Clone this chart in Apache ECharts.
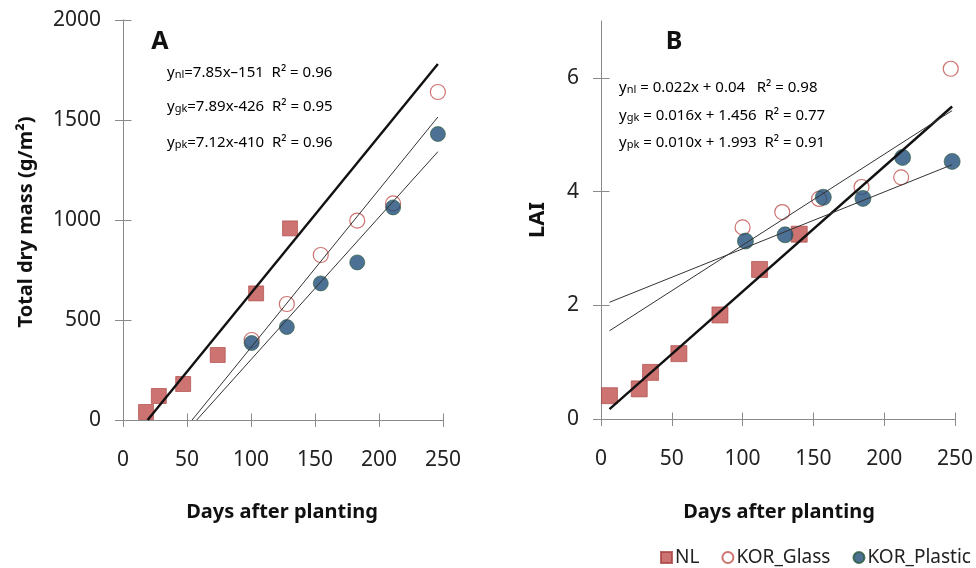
<!DOCTYPE html>
<html>
<head>
<meta charset="utf-8">
<title>Dry mass and LAI</title>
<script src="https://cdn.jsdelivr.net/npm/echarts@6/dist/echarts.min.js"></script>
<style>
  html, body { margin: 0; padding: 0; background: #fff; }
  #chart { width: 976px; height: 568px; }
</style>
</head>
<body>
<div id="chart"></div>
<script>
// Panel A: total dry mass (g/m2) against days after planting
const daysA_NL = [18, 28, 47, 74, 104, 130.5];
const massA_NL = [40, 120, 180, 325, 633, 958];
const daysA_KOR = [100.5, 128, 154.5, 183, 211, 246];
const massA_Glass = [400, 580, 825, 997, 1083, 1640];
const massA_Plastic = [385, 465, 683, 788, 1063, 1430];

// Panel B: leaf area index against days after planting
const daysB_NL = [6, 27, 35, 55, 84, 112, 140];
const laiB_NL = [0.41, 0.53, 0.82, 1.15, 1.83, 2.63, 3.25];
const daysB_Glass = [100, 128, 154, 184, 212, 247];
const laiB_Glass = [3.37, 3.64, 3.87, 4.08, 4.25, 6.16];
const daysB_Plastic = [102, 130, 157, 185, 213, 248];
const laiB_Plastic = [3.13, 3.24, 3.90, 3.88, 4.60, 4.53];

// Linear regressions (order: NL, KOR_Glass, KOR_Plastic)
const slopesA = [7.85, 7.89, 7.12];
const interceptsA = [-151, -426, -410];
const slopesB = [0.022, 0.016, 0.010];
const interceptsB = [0.04, 1.456, 1.993];

const eqTextA = [
  ['nl', '=7.85x\u2013151  R\u00b2 = 0.96'],
  ['gk', '=7.89x-426  R\u00b2 = 0.95'],
  ['pk', '=7.12x-410  R\u00b2 = 0.96']
];
const eqTextB = [
  ['nl', ' = 0.022x + 0.04   R\u00b2 = 0.98'],
  ['gk', ' = 0.016x + 1.456  R\u00b2 = 0.77'],
  ['pk', ' = 0.010x + 1.993  R\u00b2 = 0.91']
];

// Tick values
const ticksX = [0, 50, 100, 150, 200, 250];
const ticksA_y = [0, 500, 1000, 1500, 2000];
const ticksB_y = [0, 2, 4, 6];

const FONT = 'Noto Sans';
const RED = '#C0504D';
const BLUE = '#1F4E79';

function zip(xs, ys) { return xs.map((x, i) => [x, ys[i]]); }

// Regression line over the pooled x range, kept at y >= 0
function fitLine(m, b, xmin, xmax) {
  let x0 = xmin;
  if (m * x0 + b < 0) x0 = -b / m;
  return [[x0, m * x0 + b], [xmax, m * xmax + b]];
}

const allA = daysA_NL.concat(daysA_KOR);
const allB = daysB_NL.concat(daysB_Glass, daysB_Plastic);
const minA = Math.min(...allA), maxA = Math.max(...allA);
const minB = Math.min(...allB), maxB = Math.max(...allB);

const GRID_A = { left: 123, top: 20, width: 320, height: 400 };
const GRID_B = { left: 601, top: 21, width: 355, height: 398 };

const AXIS_GREY = '#8a8a8a';
const axisLineStyle = { color: AXIS_GREY, width: 1 };
const labelStyle = {
  fontFamily: FONT, fontSize: 21, color: '#222',
  formatter: (v) => String(v)
};
const TICK_X = 7, TICK_Y = 8;

function mainX(grid) {
  return {
    type: 'value', gridIndex: grid, min: 0, max: 250, interval: 50, position: 'bottom',
    splitLine: { show: false },
    axisLine: { show: true, onZero: false, lineStyle: axisLineStyle },
    axisTick: { show: true, length: TICK_X, lineStyle: axisLineStyle, customValues: ticksX },
    axisLabel: Object.assign({ margin: 30, customValues: ticksX }, labelStyle)
  };
}
function mainY(grid, max, interval, ticks) {
  return {
    type: 'value', gridIndex: grid, min: 0, max, interval, position: 'left',
    splitLine: { show: false },
    axisLine: { show: true, onZero: false, lineStyle: axisLineStyle },
    axisTick: { show: true, length: TICK_Y, lineStyle: axisLineStyle, customValues: ticks },
    axisLabel: Object.assign({ margin: 22, customValues: ticks }, labelStyle)
  };
}

const option = {
  animation: false,
  backgroundColor: '#fff',
  grid: [GRID_A, GRID_B],
  xAxis: [mainX(0), mainX(1)],
  yAxis: [mainY(0, 2000, 500, ticksA_y), mainY(1, 7, 2, ticksB_y)],
  legend: {
    left: 655, top: 543,
    itemWidth: 11, itemHeight: 11, itemGap: 22,
    textStyle: { fontFamily: FONT, fontSize: 19, color: '#222', padding: [0, 0, 0, -2] },
    data: [
      { name: 'NL', icon: 'rect' },
      { name: 'KOR_Glass', icon: 'circle' },
      { name: 'KOR_Plastic', icon: 'circle' }
    ]
  },
  series: [],
  graphic: []
};

const nlStyle = { color: RED, borderColor: '#a94442', borderWidth: 0.8 };
const glassStyle = { color: '#fff', borderColor: RED, borderWidth: 1.2 };
const plasticStyle = { color: BLUE, borderColor: '#2b5a3a', borderWidth: 0.8 };

function scatter(name, grid, data, symbol, size, style) {
  return {
    name, type: 'scatter', xAxisIndex: grid, yAxisIndex: grid, data,
    symbol, symbolSize: size, itemStyle: style, z: 2
  };
}
function line(name, grid, data, width, color) {
  return {
    name, type: 'line', xAxisIndex: grid, yAxisIndex: grid, data,
    symbol: 'none', lineStyle: { width, color }, z: 5, silent: true
  };
}

option.series.push(
  scatter('NL', 0, zip(daysA_NL, massA_NL), 'rect', 15, nlStyle),
  scatter('KOR_Glass', 0, zip(daysA_KOR, massA_Glass), 'circle', 15, glassStyle),
  scatter('KOR_Plastic', 0, zip(daysA_KOR, massA_Plastic), 'circle', 15, plasticStyle),
  scatter('NL', 1, zip(daysB_NL, laiB_NL), 'rect', 16, nlStyle),
  scatter('KOR_Glass', 1, zip(daysB_Glass, laiB_Glass), 'circle', 15, glassStyle),
  scatter('KOR_Plastic', 1, zip(daysB_Plastic, laiB_Plastic), 'circle', 16, plasticStyle)
);

const fitNames = ['NL fit', 'KOR_Glass fit', 'KOR_Plastic fit'];
for (let i = 0; i < 3; i++) {
  const w = i === 0 ? 2.4 : 1;
  const c = i === 0 ? '#111' : '#333';
  option.series.push(line(fitNames[i], 0, fitLine(slopesA[i], interceptsA[i], minA, maxA), w, c));
  option.series.push(line(fitNames[i], 1, fitLine(slopesB[i], interceptsB[i], minB, maxB), w, c));
}

// Text annotations: panel letters, axis titles, regression equations
function txt(text, x, y, font, extra) {
  return Object.assign({
    type: 'text', x, y, silent: true,
    style: { text, font, fill: '#111', align: 'center', verticalAlign: 'middle' }
  }, extra || {});
}
const bold20 = 'bold 20px "' + FONT + '"';
option.graphic.push(
  txt('A', 160, 42, 'bold 25px "' + FONT + '"'),
  txt('B', 674, 42, 'bold 25px "' + FONT + '"'),
  txt('Days after planting', 282, 512, bold20),
  txt('Days after planting', 779, 512, bold20),
  txt('Total dry mass (g/m\u00b2)', 26, 222, bold20, { rotation: Math.PI / 2 }),
  txt('LAI', 538, 220, 'bold 22px "' + FONT + '"', { rotation: Math.PI / 2 })
);

const eqRich = {
  m: { fontFamily: FONT, fontSize: 15, color: '#333', lineHeight: 19, verticalAlign: 'bottom' },
  s: { fontFamily: FONT, fontSize: 11, color: '#333', lineHeight: 12, verticalAlign: 'bottom' }
};
function eq(parts, x, y) {
  return {
    type: 'text', x, y, silent: true,
    style: {
      text: '{m|y}{s|' + parts[0] + '}{m|' + parts[1] + '}',
      rich: eqRich, align: 'left', verticalAlign: 'middle'
    }
  };
}
const eqYA = [71, 105, 141];
const eqYB = [86, 114, 141];
eqTextA.forEach((p, i) => option.graphic.push(eq(p, 167, eqYA[i])));
eqTextB.forEach((p, i) => option.graphic.push(eq(p, 619, eqYB[i])));

const chart = echarts.init(document.getElementById('chart'), null, { renderer: 'canvas' });
chart.setOption(option);

// Inner halves of the tick marks, so each tick crosses its axis line.
// Positions come from the axes' own value-to-pixel conversion.
function crisp(p) {
  const d = Math.round(p * 2);
  return (d + 1) % 2 === 0 ? d / 2 : (d + 1) / 2;
}
const innerTicks = [];
[[0, ticksA_y], [1, ticksB_y]].forEach(([g, yTicks]) => {
  const origin = chart.convertToPixel({ gridIndex: g }, [0, 0]);
  const x0 = crisp(origin[0]);
  const y0 = crisp(origin[1]);
  ticksX.forEach((v) => {
    const px = crisp(chart.convertToPixel({ xAxisIndex: g }, v));
    innerTicks.push({
      type: 'line', silent: true, z: 1,
      shape: { x1: px, y1: y0, x2: px, y2: y0 - TICK_X },
      style: { stroke: AXIS_GREY, lineWidth: 1 }
    });
  });
  yTicks.forEach((v) => {
    const py = crisp(chart.convertToPixel({ yAxisIndex: g }, v));
    innerTicks.push({
      type: 'line', silent: true, z: 1,
      shape: { x1: x0, y1: py, x2: x0 + TICK_Y, y2: py },
      style: { stroke: AXIS_GREY, lineWidth: 1 }
    });
  });
});
chart.setOption({ graphic: option.graphic.concat(innerTicks) });
</script>
</body>
</html>
